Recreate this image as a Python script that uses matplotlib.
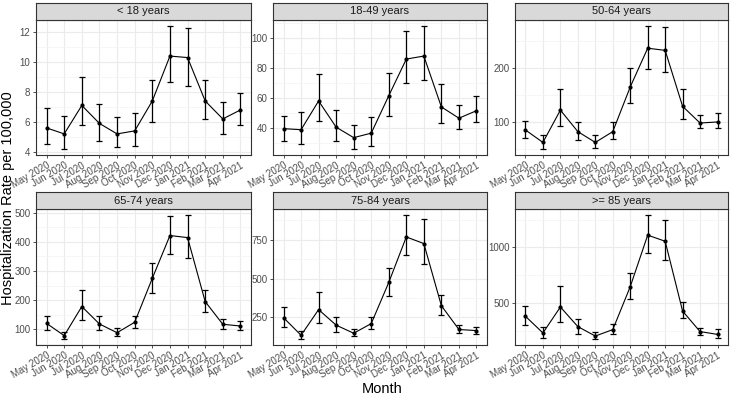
import numpy as np
import matplotlib
matplotlib.use('Agg')
import matplotlib.pyplot as plt
from matplotlib.ticker import MultipleLocator

plt.rcParams['font.family'] = ['Liberation Sans', 'DejaVu Sans']

months = ['May 2020', 'Jun 2020', 'Jul 2020', 'Aug 2020', 'Sep 2020', 'Oct 2020',
          'Nov 2020', 'Dec 2020', 'Jan 2021', 'Feb 2021', 'Mar 2021', 'Apr 2021']

groups = ['< 18 years', '18-49 years', '50-64 years',
          '65-74 years', '75-84 years', '>= 85 years']

# rate, lower CI, upper CI per age group
rate_u18 = [5.6, 5.2, 7.1, 5.9, 5.2, 5.4, 7.4, 10.4, 10.3, 7.4, 6.2, 6.8]
lo_u18 = [4.5, 4.2, 5.8, 4.7, 4.3, 4.4, 6.0, 8.7, 8.4, 6.2, 5.2, 5.8]
hi_u18 = [6.9, 6.4, 9.0, 7.2, 6.3, 6.6, 8.8, 12.4, 12.3, 8.8, 7.3, 7.9]

rate_18 = [39.5, 38.8, 58, 40.5, 33.5, 36.5, 61.5, 86, 88, 54, 46.5, 51.5]
lo_18 = [31.5, 29, 44.5, 31.5, 26, 28, 48, 70, 72, 43, 39, 44]
hi_18 = [48, 50.5, 76, 52, 42, 47, 77, 105, 108, 69.5, 55.5, 61]

rate_50 = [85, 62, 122, 82, 62, 82, 165, 237, 233, 129, 98, 100]
lo_50 = [70, 50, 92, 66, 51, 68, 135, 199, 192, 106, 88, 89]
hi_50 = [102, 75, 162, 99, 75, 99, 200, 278, 277, 161, 113, 116]

rate_65 = [120, 78, 178, 118, 88, 124, 275, 422, 415, 195, 117, 111]
lo_65 = [98, 67, 132, 96, 78, 103, 226, 358, 345, 160, 102, 98]
hi_65 = [145, 92, 236, 145, 103, 146, 327, 490, 492, 235, 135, 128]

rate_75 = [248, 135, 300, 200, 148, 210, 475, 768, 725, 325, 172, 165]
lo_75 = [190, 112, 215, 157, 128, 175, 390, 650, 595, 265, 150, 140]
hi_75 = [315, 160, 412, 250, 178, 252, 568, 908, 885, 395, 200, 188]

rate_85 = [378, 228, 462, 285, 200, 258, 645, 1110, 1055, 425, 240, 215]
lo_85 = [300, 180, 330, 220, 175, 222, 530, 950, 890, 365, 205, 180]
hi_85 = [475, 280, 648, 355, 235, 310, 770, 1290, 1245, 510, 272, 262]

rates = [rate_u18, rate_18, rate_50, rate_65, rate_75, rate_85]
lows = [lo_u18, lo_18, lo_50, lo_65, lo_75, lo_85]
highs = [hi_u18, hi_18, hi_50, hi_65, hi_75, hi_85]

# major tick step per panel
major_steps = [2, 20, 100, 100, 250, 500]

W, H = 733, 400
fig = plt.figure(figsize=(W / 100, H / 100), dpi=100)

col_x = [(36, 251), (273, 487), (515, 728)]
row_y = [(3, 20, 155), (192, 209, 345)]  # strip top, strip bottom/panel top, panel bottom


def px_rect(x0, y0, x1, y1):
    return [x0 / W, 1 - y1 / H, (x1 - x0) / W, (y1 - y0) / H]


for i in range(6):
    r, c = divmod(i, 3)
    x0, x1 = col_x[c]
    st, pt, pb = row_y[r]
    ax = fig.add_axes(px_rect(x0, pt, x1, pb))
    sax = fig.add_axes(px_rect(x0, st, x1, pt))

    x = np.arange(len(months))
    y = np.array(rates[i])
    lo = np.array(lows[i])
    hi = np.array(highs[i])

    ax.errorbar(x, y, yerr=[y - lo, hi - y], fmt='none', ecolor='black',
                elinewidth=0.9, capsize=2.5, capthick=0.9, zorder=3)
    ax.plot(x, y, color='black', lw=0.8, marker='o', ms=2, zorder=4)

    # padding like ggplot
    lo_all = lo.min()
    hi_all = hi.max()
    pad = (hi_all - lo_all) * 0.05
    ax.set_ylim(lo_all - pad, hi_all + pad)
    ax.set_xlim(-0.6, len(months) - 0.4)

    step = major_steps[i]
    ax.yaxis.set_major_locator(MultipleLocator(step))
    ax.yaxis.set_minor_locator(MultipleLocator(step / 2))
    ax.set_xticks(x)
    ax.set_xticklabels(months, rotation=30, ha='right', rotation_mode='anchor')

    ax.grid(True, which='major', color='#ebebeb', lw=0.8)
    ax.grid(True, which='minor', axis='y', color='#f3f3f3', lw=0.5)
    ax.set_axisbelow(True)
    ax.tick_params(which='minor', length=0)
    ax.tick_params(which='major', length=2.5, width=0.6, color='#333333',
                   labelsize=7, labelcolor='#4d4d4d', pad=1.5)
    for sp in ax.spines.values():
        sp.set_color('#333333')
        sp.set_linewidth(0.8)

    sax.set_facecolor('#d9d9d9')
    sax.set_xticks([])
    sax.set_yticks([])
    for sp in sax.spines.values():
        sp.set_color('#333333')
        sp.set_linewidth(0.8)
    sax.text(0.5, 0.5, groups[i], ha='center', va='center', fontsize=8,
             color='#1a1a1a', transform=sax.transAxes)

fig.text(8 / W, 1 - 198 / H, 'Hospitalization Rate per 100,000', rotation=90,
         ha='center', va='center', fontsize=10.5)
fig.text(382 / W, 1 - 389 / H, 'Month', ha='center', va='center', fontsize=10.5)

fig.savefig('out.png', dpi=100)
